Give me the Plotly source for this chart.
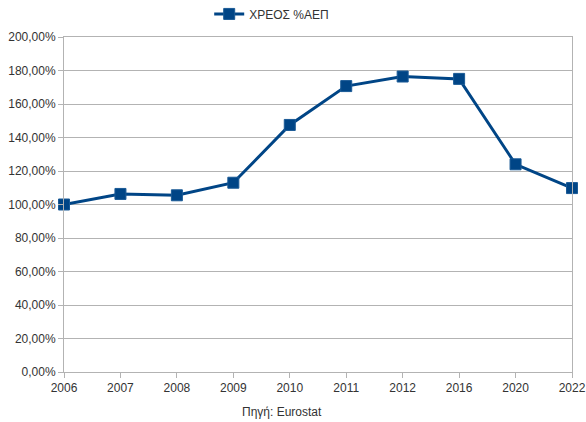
import plotly.graph_objects as go

# Debt as % of GDP
years = ['2006', '2007', '2008', '2009', '2010', '2011', '2012', '2016', '2020', '2022']
debt_pct = [100.0, 106.3, 105.5, 113.0, 147.5, 170.7, 176.4, 175.0, 124.0, 109.8]
y_ticks = [0, 20, 40, 60, 80, 100, 120, 140, 160, 180, 200]
y_labels = ['%d,00%%' % v for v in y_ticks]

blue = '#004586'
grid = '#b3b3b3'

fig = go.Figure()
fig.add_trace(go.Scatter(
    x=years, y=debt_pct, mode='lines+markers', name='ΧΡΕΟΣ %ΑΕΠ',
    line=dict(color=blue, width=3),
    marker=dict(symbol='square', size=11, color=blue,
                line=dict(color='#1a5a96', width=1)),
    cliponaxis=False,
))

fig.update_layout(
    width=586, height=422,
    margin=dict(l=64, r=14, t=37, b=50, autoexpand=False),
    paper_bgcolor='white', plot_bgcolor='white',
    font=dict(family='Liberation Sans, Arial, sans-serif', size=12, color='#333333'),
    showlegend=True,
    legend=dict(orientation='h', xref='container', yref='container',
                x=0.357, xanchor='left', y=0.967, yanchor='middle',
                font=dict(size=12), itemwidth=30, bgcolor='rgba(0,0,0,0)'),
)

fig.update_xaxes(
    type='category', range=[0, 9], automargin=False,
    showgrid=False, showline=True, linecolor=grid, mirror=True,
    ticks='outside', ticklen=5, tickcolor=grid,
)
fig.update_yaxes(
    range=[0, 200], tickvals=y_ticks, ticktext=y_labels, automargin=False,
    showgrid=True, gridcolor=grid, showline=True, linecolor=grid, mirror=True,
    ticks='outside', ticklen=5, tickcolor=grid, zeroline=False,
)

fig.add_annotation(text='Πηγή: Eurostat', xref='paper', yref='paper',
                   x=0.43, y=-0.12, xanchor='center', yanchor='middle',
                   showarrow=False, font=dict(size=12, color='#333333'))

# drop the default page margin so the figure sits at the window corner
fig.write_html('out.html', config={'displayModeBar': False},
               post_script="document.body.style.margin='0';")
